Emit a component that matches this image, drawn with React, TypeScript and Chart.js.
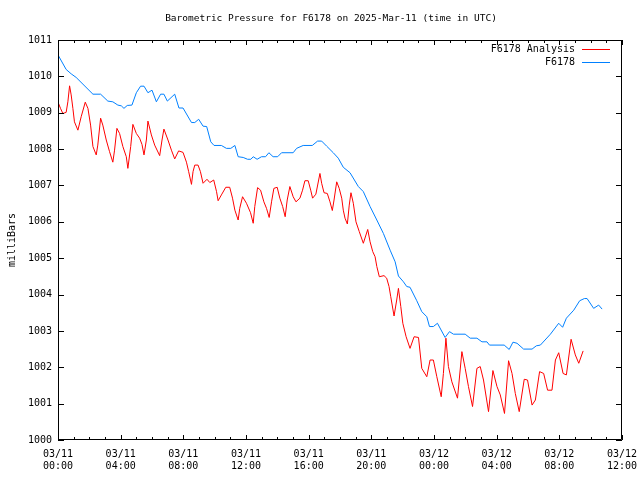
import React, { useEffect, useRef } from "react";
import { Chart, registerables } from "chart.js";

Chart.register(...registerables);

const chartTitle = "Barometric Pressure for F6178 on 2025-Mar-11 (time in UTC)";
const yAxisLabel = "milliBars";
const seriesNames = ["F6178 Analysis", "F6178"];
const seriesColors = ["#ff0000", "#0080ff"];

const xTickDates = ["03/11", "03/11", "03/11", "03/11", "03/11", "03/11", "03/12", "03/12", "03/12", "03/12"];
const xTickTimes = ["00:00", "04:00", "08:00", "12:00", "16:00", "20:00", "00:00", "04:00", "08:00", "12:00"];

// hours since 03/11 00:00 UTC
const analysisHours = [
  0.0, 0.16, 0.31, 0.52, 0.63, 0.74, 0.84, 0.95, 1.05, 1.27, 1.48, 1.74, 1.91, 2.08, 2.23, 2.44, 2.54, 2.72, 2.86, 3.08,
  3.29, 3.5, 3.61, 3.76, 3.93, 4.14, 4.36, 4.46, 4.64, 4.78, 5.0, 5.21, 5.36, 5.49, 5.64, 5.74, 5.96, 6.17, 6.49, 6.64,
  6.76, 7.02, 7.24, 7.45, 7.7, 7.98, 8.2, 8.34, 8.52, 8.62, 8.73, 8.94, 9.09, 9.26, 9.51, 9.69, 9.94, 10.12, 10.22, 10.43,
  10.71, 10.96, 11.14, 11.29, 11.5, 11.6, 11.78, 12.03, 12.29, 12.46, 12.56, 12.74, 12.93, 13.14, 13.31, 13.48, 13.63, 13.78, 13.99, 14.16,
  14.34, 14.5, 14.63, 14.8, 15.01, 15.19, 15.44, 15.61, 15.76, 15.97, 16.13, 16.25, 16.46, 16.72, 16.83, 16.98, 17.19, 17.36, 17.51, 17.62,
  17.79, 17.95, 18.11, 18.21, 18.32, 18.47, 18.59, 18.7, 18.85, 19.02, 19.23, 19.49, 19.77, 19.92, 20.09, 20.24, 20.35, 20.51, 20.81, 20.98,
  21.13, 21.24, 21.45, 21.62, 21.73, 21.88, 22.01, 22.22, 22.47, 22.73, 23.01, 23.22, 23.54, 23.75, 23.96, 24.18, 24.46, 24.6, 24.76, 24.92,
  25.14, 25.5, 25.78, 25.99, 26.2, 26.46, 26.74, 26.95, 27.16, 27.48, 27.76, 28.02, 28.23, 28.5, 28.76, 28.98, 29.19, 29.44, 29.76, 29.97,
  30.26, 30.47, 30.74, 31.0, 31.25, 31.53, 31.75, 31.96, 32.24, 32.45, 32.75, 33.02, 33.24, 33.52,
];
const analysisValues = [
  1009.29, 1009.12, 1008.98, 1009.01, 1009.3, 1009.74, 1009.49, 1009.12, 1008.75, 1008.52, 1008.89, 1009.29, 1009.12, 1008.66, 1008.07, 1007.84, 1008.11, 1008.85, 1008.66, 1008.25,
  1007.93, 1007.64, 1007.97, 1008.57, 1008.43, 1008.07, 1007.79, 1007.47, 1008.07, 1008.68, 1008.43, 1008.3, 1008.13, 1007.84, 1008.25, 1008.77, 1008.39, 1008.11, 1007.82, 1008.25,
  1008.55, 1008.25, 1007.97, 1007.73, 1007.95, 1007.91, 1007.64, 1007.38, 1007.03, 1007.38, 1007.56, 1007.56, 1007.38, 1007.06, 1007.17, 1007.08, 1007.15, 1006.83, 1006.58, 1006.74,
  1006.95, 1006.95, 1006.65, 1006.32, 1006.05, 1006.37, 1006.69, 1006.51, 1006.25, 1005.96, 1006.42, 1006.94, 1006.87, 1006.55, 1006.37, 1006.12, 1006.55, 1006.92, 1006.95, 1006.65,
  1006.42, 1006.14, 1006.6, 1006.97, 1006.69, 1006.55, 1006.65, 1006.87, 1007.13, 1007.13, 1006.87, 1006.65, 1006.76, 1007.33, 1007.06, 1006.8, 1006.78, 1006.55, 1006.31, 1006.6,
  1007.1, 1006.92, 1006.65, 1006.32, 1006.1, 1005.94, 1006.46, 1006.8, 1006.51, 1006.0, 1005.73, 1005.41, 1005.79, 1005.45, 1005.18, 1005.04, 1004.77, 1004.49, 1004.52, 1004.45,
  1004.22, 1003.94, 1003.41, 1003.85, 1004.17, 1003.67, 1003.21, 1002.84, 1002.52, 1002.84, 1002.82, 1001.97, 1001.74, 1002.2, 1002.2, 1001.74, 1001.19, 1001.83, 1002.8, 1002.02,
  1001.6, 1001.15, 1002.43, 1001.97, 1001.47, 1000.92, 1001.97, 1002.02, 1001.65, 1000.78, 1001.91, 1001.47, 1001.24, 1000.73, 1002.18, 1001.83, 1001.28, 1000.78, 1001.67, 1001.65,
  1000.96, 1001.1, 1001.88, 1001.83, 1001.37, 1001.37, 1002.2, 1002.4, 1001.83, 1001.79, 1002.77, 1002.34, 1002.11, 1002.45,
];

const stationHours = [
  0.0, 0.52, 0.84, 1.16, 2.23, 2.72, 3.18, 3.5, 3.82, 4.04, 4.21, 4.42, 4.72, 5.0, 5.27, 5.49, 5.74, 6.0, 6.28, 6.55,
  6.76, 6.98, 7.45, 7.72, 7.98, 8.52, 8.73, 8.98, 9.26, 9.49, 9.75, 9.96, 10.43, 10.75, 11.03, 11.29, 11.5, 11.82, 12.1, 12.31,
  12.46, 12.71, 12.99, 13.25, 13.46, 13.73, 14.02, 14.27, 15.01, 15.23, 15.65, 16.23, 16.57, 16.83, 17.15, 17.57, 17.89, 18.21, 18.64, 19.17,
  19.49, 19.92, 20.35, 20.77, 21.2, 21.52, 21.73, 22.05, 22.26, 22.47, 22.9, 23.22, 23.54, 23.71, 23.96, 24.22, 24.71, 24.99, 25.24, 25.99,
  26.31, 26.74, 27.06, 27.38, 27.54, 28.48, 28.8, 29.04, 29.3, 29.72, 30.26, 30.53, 30.79, 31.43, 31.96, 32.21, 32.45, 32.92, 33.3, 33.6,
  33.77, 34.19, 34.51, 34.73,
];
const stationValues = [
  1010.59, 1010.19, 1010.07, 1009.97, 1009.51, 1009.51, 1009.32, 1009.3, 1009.21, 1009.19, 1009.12, 1009.2, 1009.21, 1009.55, 1009.73, 1009.73, 1009.55, 1009.62, 1009.3, 1009.51,
  1009.51, 1009.32, 1009.51, 1009.13, 1009.13, 1008.73, 1008.73, 1008.82, 1008.63, 1008.62, 1008.2, 1008.1, 1008.1, 1008.02, 1008.02, 1008.1, 1007.79, 1007.77, 1007.72, 1007.72,
  1007.79, 1007.72, 1007.79, 1007.79, 1007.9, 1007.79, 1007.79, 1007.9, 1007.9, 1008.02, 1008.1, 1008.1, 1008.22, 1008.22, 1008.08, 1007.9, 1007.75, 1007.5, 1007.35, 1006.97,
  1006.83, 1006.42, 1006.05, 1005.68, 1005.22, 1004.9, 1004.51, 1004.35, 1004.22, 1004.2, 1003.83, 1003.53, 1003.39, 1003.12, 1003.12, 1003.21, 1002.82, 1002.98, 1002.91, 1002.91,
  1002.8, 1002.8, 1002.7, 1002.7, 1002.61, 1002.61, 1002.49, 1002.69, 1002.66, 1002.5, 1002.5, 1002.59, 1002.61, 1002.91, 1003.21, 1003.1, 1003.35, 1003.57, 1003.83, 1003.89,
  1003.89, 1003.62, 1003.71, 1003.6,
];

const FONT = "'DejaVu Sans Mono', monospace";

const gnuplotDecor = {
  id: "gnuplotDecor",
  afterDraw(chart: any) {
    const ctx = chart.ctx as CanvasRenderingContext2D;
    const { left, right, top, bottom } = chart.chartArea;
    const xs = chart.scales.x;
    const ys = chart.scales.y;
    ctx.save();
    ctx.strokeStyle = "#000";
    ctx.lineWidth = 1;
    ctx.beginPath();
    ctx.rect(left + 0.5, top + 0.5, right - left - 1, bottom - top - 1);
    for (let v = 1000; v <= 1011; v++) {
      const y = Math.round(ys.getPixelForValue(v)) + 0.5;
      ctx.moveTo(left, y);
      ctx.lineTo(left + 6, y);
      ctx.moveTo(right, y);
      ctx.lineTo(right - 6, y);
    }
    for (let h = 0; h <= 36; h++) {
      const x = Math.round(xs.getPixelForValue(h)) + 0.5;
      const len = h % 4 === 0 ? 5 : 3;
      ctx.moveTo(x, bottom);
      ctx.lineTo(x, bottom - len);
      ctx.moveTo(x, top);
      ctx.lineTo(x, top + len);
    }
    ctx.stroke();

    ctx.fillStyle = "#000";
    ctx.font = `9.5px ${FONT}`;
    ctx.textAlign = "center";
    ctx.textBaseline = "middle";
    ctx.fillText(chartTitle, 331, 19);

    ctx.save();
    ctx.translate(12, 240);
    ctx.rotate(-Math.PI / 2);
    ctx.font = `10px ${FONT}`;
    ctx.fillText(yAxisLabel, 0, 0);
    ctx.restore();

    ctx.font = `10px ${FONT}`;
    ctx.textAlign = "right";
    seriesNames.forEach((name, i) => {
      const y = 49 + i * 13;
      ctx.fillStyle = "#000";
      ctx.fillText(name, 575, y);
      ctx.strokeStyle = seriesColors[i];
      ctx.beginPath();
      ctx.moveTo(582, y + 0.5);
      ctx.lineTo(610, y + 0.5);
      ctx.stroke();
    });
    ctx.restore();
  },
};

export default function App() {
  const canvasRef = useRef<HTMLCanvasElement | null>(null);

  useEffect(() => {
    if (!canvasRef.current) return;
    const chart = new Chart(canvasRef.current, {
      type: "line",
      data: {
        datasets: [
          {
            label: seriesNames[0],
            data: analysisHours.map((h, i) => ({ x: h, y: analysisValues[i] })),
            borderColor: seriesColors[0],
            borderWidth: 1,
            pointRadius: 0,
            tension: 0,
            fill: false,
          },
          {
            label: seriesNames[1],
            data: stationHours.map((h, i) => ({ x: h, y: stationValues[i] })),
            borderColor: seriesColors[1],
            borderWidth: 1,
            pointRadius: 0,
            tension: 0,
            fill: false,
          },
        ],
      },
      options: {
        responsive: false,
        animation: false,
        events: [],
        layout: { padding: { top: 40, right: 18, left: 0, bottom: 0 } },
        plugins: {
          legend: { display: false },
          title: { display: false },
          tooltip: { enabled: false },
        },
        scales: {
          x: {
            type: "linear",
            min: 0,
            max: 36,
            grid: { display: false, drawTicks: false },
            border: { display: false },
            afterFit: (s: any) => {
              s.height = 40;
              s.paddingLeft = 0;
              s.paddingRight = 0;
            },
            ticks: {
              stepSize: 4,
              autoSkip: false,
              maxRotation: 0,
              padding: 8,
              color: "#000",
              font: { family: FONT, size: 10, lineHeight: 1.25 },
              callback: (v: any) => {
                const i = Math.round(Number(v) / 4);
                return [xTickDates[i], xTickTimes[i]];
              },
            },
          },
          y: {
            type: "linear",
            min: 1000,
            max: 1011,
            grid: { display: false, drawTicks: false },
            border: { display: false },
            afterFit: (s: any) => {
              s.width = 58;
              s.paddingTop = 0;
              s.paddingBottom = 0;
            },
            ticks: {
              stepSize: 1,
              autoSkip: false,
              padding: 6,
              color: "#000",
              font: { family: FONT, size: 10 },
              callback: (v: any) => String(v),
            },
          },
        },
      },
      plugins: [gnuplotDecor],
    });
    return () => chart.destroy();
  }, []);

  return (
    <div style={{ position: "fixed", left: 0, top: 0, width: 640, height: 480, background: "#fff" }}>
      <canvas ref={canvasRef} width={640} height={480} />
    </div>
  );
}
